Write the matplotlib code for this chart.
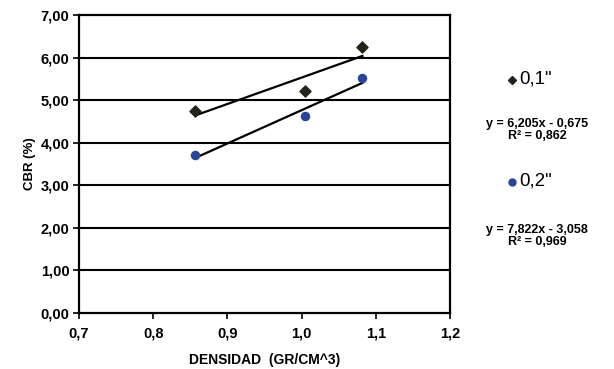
import matplotlib.pyplot as plt
import numpy as np
from matplotlib.lines import Line2D

plt.rcParams["font.family"] = ["Liberation Sans", "DejaVu Sans"]

# densidad (gr/cm^3) and CBR (%)
densidad = [0.857, 1.005, 1.082]
cbr_01 = [4.75, 5.22, 6.25]
cbr_02 = [3.72, 4.62, 5.52]

# trend lines as printed on the chart
slope_01, icpt_01, r2_01 = 6.205, -0.675, 0.862
slope_02, icpt_02, r2_02 = 7.822, -3.058, 0.969

x_ticks = [0.7, 0.8, 0.9, 1.0, 1.1, 1.2]
y_ticks = [0, 1, 2, 3, 4, 5, 6, 7]

col_01 = "#23231a"
col_02 = "#2a4596"


def fmt_comma(v, decimals):
    return f"{v:.{decimals}f}".replace(".", ",")


fig = plt.figure(figsize=(6.14, 3.69), dpi=100)
ax = fig.add_axes([79 / 614, 56 / 369, 371 / 614, 298 / 369])

for y in y_ticks[1:-1]:
    ax.axhline(y, color="black", linewidth=1.5, zorder=1)

xs = np.array([min(densidad), max(densidad)])
ax.plot(xs, slope_01 * xs + icpt_01, color="black", linewidth=1.6, zorder=2)
ax.plot(xs, slope_02 * xs + icpt_02, color="black", linewidth=1.6, zorder=2)
ax.scatter(densidad, cbr_01, marker="D", s=32, color=col_01, zorder=3)
ax.scatter(densidad, cbr_02, marker="o", s=34, color=col_02, zorder=3)

ax.set_xlim(0.7, 1.2)
ax.set_ylim(0, 7)
ax.set_xticks(x_ticks)
ax.set_yticks(y_ticks)
ax.set_xticklabels([fmt_comma(v, 1) for v in x_ticks], fontsize=10.5, fontweight="bold")
ax.set_yticklabels([fmt_comma(v, 2) for v in y_ticks], fontsize=10.5, fontweight="bold")
ax.tick_params(direction="out", length=4, width=1.2, color="black")
ax.tick_params(axis="x", pad=6)
ax.tick_params(axis="y", pad=3)
for sp in ax.spines.values():
    sp.set_linewidth(1.6)
ax.set_xlabel("DENSIDAD  (GR/CM^3)", fontsize=10, fontweight="bold", labelpad=9)
ax.set_ylabel("CBR (%)", fontsize=9.5, fontweight="bold", labelpad=3)

# legend entries and equations on the right
fig.add_artist(Line2D([512 / 614], [1 - 80 / 369], marker="D", markersize=4.5,
                      color=col_01, linestyle="none", transform=fig.transFigure))
fig.text(519 / 614, 1 - 79 / 369, '0,1"', fontsize=13.5, ha="left", va="center")
fig.text(537 / 614, 1 - 130 / 369,
         f"y = {fmt_comma(slope_01, 3)}x - {fmt_comma(-icpt_01, 3)}\nR\u00b2 = {fmt_comma(r2_01, 3)}",
         fontsize=9, fontweight="bold", ha="center", va="center", linespacing=1.0)
fig.add_artist(Line2D([512 / 614], [1 - 182 / 369], marker="o", markersize=5,
                      color=col_02, linestyle="none", transform=fig.transFigure))
fig.text(519 / 614, 1 - 181 / 369, '0,2"', fontsize=13.5, ha="left", va="center")
fig.text(537 / 614, 1 - 236 / 369,
         f"y = {fmt_comma(slope_02, 3)}x - {fmt_comma(-icpt_02, 3)}\nR\u00b2 = {fmt_comma(r2_02, 3)}",
         fontsize=9, fontweight="bold", ha="center", va="center", linespacing=1.0)

fig.savefig("out.png", dpi=100)
